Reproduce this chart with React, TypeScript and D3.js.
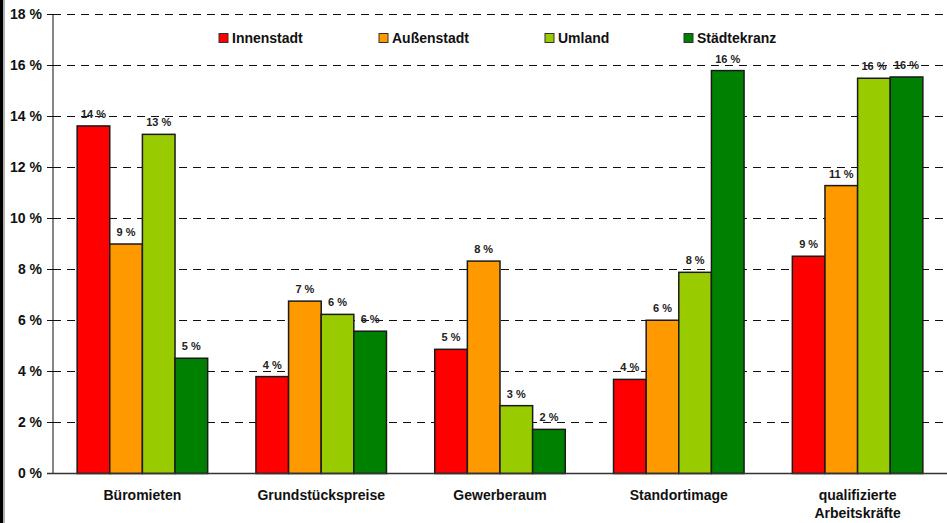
import React from "react";
import * as d3 from "d3";

const categories = ["Büromieten", "Grundstückspreise", "Gewerberaum", "Standortimage", "qualifizierte\nArbeitskräfte"];
const seriesNames = ["Innenstadt", "Außenstadt", "Umland", "Städtekranz"];
const seriesColors = ["#ff0000", "#ff9900", "#99cc00", "#008000"];
const innenstadt = [13.63, 3.8, 4.87, 3.69, 8.52];
const aussenstadt = [9.0, 6.76, 8.33, 6.01, 11.29];
const umland = [13.3, 6.24, 2.66, 7.89, 15.5];
const staedtekranz = [4.52, 5.58, 1.73, 15.8, 15.55];
const yTicks = [0, 2, 4, 6, 8, 10, 12, 14, 16, 18];

const W = 947;
const H = 523;
const FONT = "'Liberation Sans', Arial, sans-serif";

export default function App() {
  const values = [innenstadt, aussenstadt, umland, staedtekranz];
  const x0 = d3.scaleBand<string>().domain(categories).range([53, 947]).paddingInner(0.27).paddingOuter(0.135);
  const x1 = d3.scaleBand<string>().domain(seriesNames).range([0, x0.bandwidth()]).padding(0);
  const y = d3.scaleLinear().domain([0, 18]).range([473.5, 14.5]);
  const legendX = [219, 379, 545, 684];

  return (
    <div style={{ position: "absolute", left: 0, top: 0 }}>
      <svg width={W} height={H} style={{ display: "block", fontFamily: FONT }}>
        <rect x={0} y={0} width={W} height={H} fill="#ffffff" />
        <rect x={0} y={0} width={3} height={H} fill="#000000" />
        <rect x={3} y={0} width={2} height={H} fill="#b0b0b0" />
        {yTicks.map((t) => (
          <g key={t}>
            {t > 0 && (
              <line x1={53} x2={947} y1={y(t)} y2={y(t)} stroke="#111" strokeWidth={1} strokeDasharray="8,6" />
            )}
            <line x1={47} x2={53} y1={y(t)} y2={y(t)} stroke="#111" strokeWidth={1} />
            <text x={42} y={y(t)} dy="0.35em" textAnchor="end" fontSize={14} fontWeight="bold" fill="#111">
              {`${t} %`}
            </text>
          </g>
        ))}
        {categories.map((c, ci) => (
          <g key={c}>
            {seriesNames.map((s, si) => {
              const v = values[si][ci];
              const bx = (x0(c) as number) + (x1(s) as number);
              return (
                <g key={s}>
                  <rect x={bx} y={y(v)} width={x1.bandwidth()} height={y(0) - y(v)} fill={seriesColors[si]} stroke="#1a1a1a" strokeWidth={1.5} />
                  <text x={bx + x1.bandwidth() / 2} y={y(v) - 8} textAnchor="middle" fontSize={11} fontWeight="bold" fill="#222">
                    {`${Math.round(v)} %`}
                  </text>
                </g>
              );
            })}
            {c.split("\n").map((line, li) => (
              <text key={li} x={(x0(c) as number) + x0.bandwidth() / 2} y={500 + li * 18} textAnchor="middle" fontSize={14} fontWeight="bold" fill="#111">
                {line}
              </text>
            ))}
          </g>
        ))}
        <line x1={53} x2={53} y1={y(18)} y2={y(0)} stroke="#111" strokeWidth={1} />
        <line x1={47} x2={947} y1={y(0)} y2={y(0)} stroke="#333" strokeWidth={1.5} />
        {seriesNames.map((s, si) => (
          <g key={s}>
            <rect x={legendX[si]} y={33.5} width={9} height={9} fill={seriesColors[si]} stroke="#333" strokeWidth={1} />
            <text x={legendX[si] + 13} y={38} dy="0.35em" fontSize={14} fontWeight="bold" fill="#111">
              {s}
            </text>
          </g>
        ))}
      </svg>
    </div>
  );
}
